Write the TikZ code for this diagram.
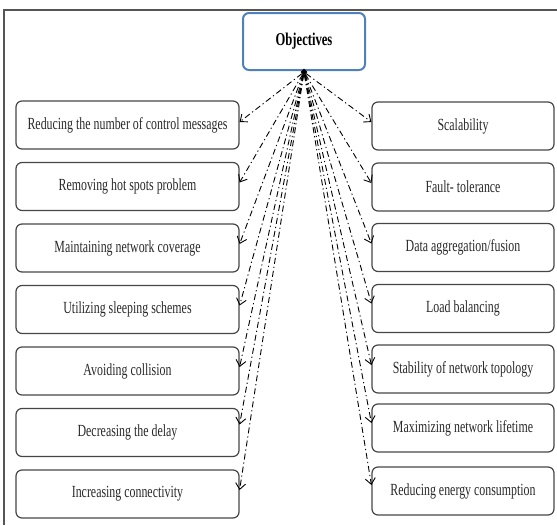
\documentclass[tikz,border=0pt]{standalone}
\usepackage{fontspec}
\setmainfont{Liberation Serif}[FakeStretch=0.7]
\usetikzlibrary{arrows.meta, shapes.geometric}
\definecolor{boxline}{RGB}{70,70,70}
\definecolor{objblue}{RGB}{79,129,189}
\definecolor{framegray}{RGB}{85,85,85}
\definecolor{textgray}{RGB}{40,40,40}

\begin{document}
\begin{tikzpicture}[x=1pt, y=-1pt, font=\fontsize{17}{19}\selectfont,
  objbox/.style={draw=boxline, line width=1.2pt, rounded corners=6pt, minimum height=48pt, inner sep=0pt, text=textgray},
  link/.style={-{Straight Barb[length=6pt,width=10pt]}, line width=0.9pt, dash pattern=on 6pt off 3pt on 1.2pt off 3pt}]
  \useasboundingbox (0,0) rectangle (557,525);
  \draw[framegray, line width=1.2pt] (4,525) -- (4,10) -- (557,10);
  \node[draw=objblue, line width=2pt, rounded corners=6pt, minimum width=122pt, minimum height=57pt, font=\fontsize{18}{20}\selectfont\bfseries] (obj) at (304,41.5) {Objectives};
  \node[diamond, fill=black, inner sep=0pt, minimum size=7pt] (hub) at (304,72) {};
  % left column
  \node[objbox, minimum width=223pt] (l1) at (127.5,125) {Reducing the number of control messages};
  \node[objbox, minimum width=223pt] (l2) at (127.5,186.5) {Removing hot spots problem};
  \node[objbox, minimum width=223pt] (l3) at (127.5,248) {Maintaining network coverage};
  \node[objbox, minimum width=223pt] (l4) at (127.5,309.5) {Utilizing sleeping schemes};
  \node[objbox, minimum width=223pt] (l5) at (127.5,371) {Avoiding collision};
  \node[objbox, minimum width=223pt] (l6) at (127.5,432.5) {Decreasing the delay};
  \node[objbox, minimum width=223pt] (l7) at (127.5,494) {Increasing connectivity};
  % right column
  \node[objbox, minimum width=182pt] (r1) at (463,126) {Scalability};
  \node[objbox, minimum width=182pt] (r2) at (463,187) {Fault- tolerance};
  \node[objbox, minimum width=182pt] (r3) at (463,247.5) {Data aggregation/fusion};
  \node[objbox, minimum width=182pt] (r4) at (463,308.5) {Load balancing};
  \node[objbox, minimum width=182pt] (r5) at (463,369) {Stability of network topology};
  \node[objbox, minimum width=182pt] (r6) at (463,428) {Maximizing network lifetime};
  \node[objbox, minimum width=182pt] (r7) at (463,491) {Reducing energy consumption};
  % arrows
  \draw[link] (hub) -- ([yshift=3pt]l1.east);
  \draw[link] (hub) -- ([yshift=4pt]l2.east);
  \draw[link] (hub) -- ([yshift=4pt]l3.east);
  \draw[link] (hub) -- ([yshift=4pt]l4.east);
  \draw[link] (hub) -- ([yshift=4pt]l5.east);
  \draw[link] (hub) -- ([yshift=8pt]l6.east);
  \draw[link] (hub) -- ([yshift=4pt]l7.east);
  \draw[link] (hub) -- ([yshift=4pt]r1.west);
  \draw[link] (hub) -- ([yshift=4pt]r2.west);
  \draw[link] (hub) -- ([yshift=4pt]r3.west);
  \draw[link] (hub) -- ([yshift=5pt]r4.west);
  \draw[link] (hub) -- ([yshift=4pt]r5.west);
  \draw[link] (hub) -- ([yshift=5pt]r6.west);
  \draw[link] (hub) -- ([yshift=6pt]r7.west);
\end{tikzpicture}
\end{document}
